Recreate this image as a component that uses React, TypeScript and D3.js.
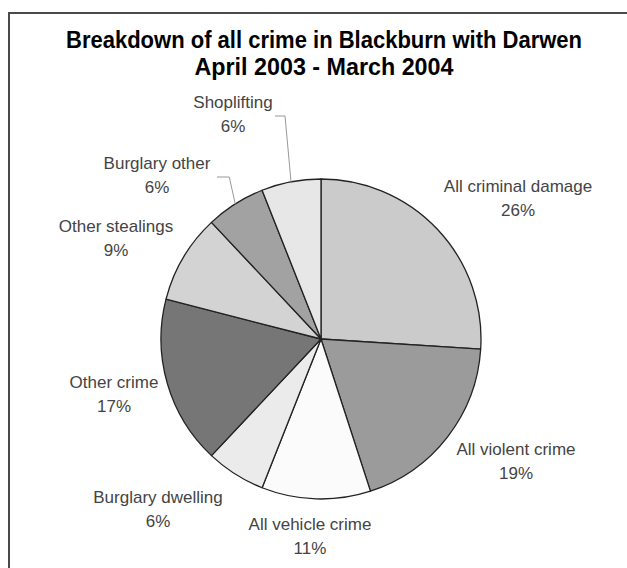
import React from "react";
import * as d3 from "d3";

const categories = [
  "All criminal damage",
  "All violent crime",
  "All vehicle crime",
  "Burglary dwelling",
  "Other crime",
  "Other stealings",
  "Burglary other",
  "Shoplifting",
];
const values = [26, 19, 11, 6, 17, 9, 6, 6];
const colors = ["#cbcbcc", "#9b9b9b", "#fbfbfb", "#ebebeb", "#767676", "#d3d3d3", "#a2a2a2", "#e7e7e7"];
const titleLines = ["Breakdown of all crime in Blackburn with Darwen", "April 2003 - March 2004"];

// label anchor positions (text centre x, first-line baseline y)
const labelPos: [number, number][] = [
  [518, 192],
  [516, 455],
  [310, 530],
  [158, 503],
  [114, 388],
  [116, 232],
  [157, 169],
  [233, 108],
];
const leaderIdx = [6, 7];

export default function App() {
  const W = 627, H = 568;
  const cx = 321, cy = 339, r = 160;
  const pie = d3.pie<number>().sort(null).value((d) => d)(values);
  const arc = d3.arc<d3.PieArcDatum<number>>().innerRadius(0).outerRadius(r);
  const total = d3.sum(values);

  const leaders: Record<number, string> = {};
  leaderIdx.forEach((i) => {
    const a = (pie[i].startAngle + pie[i].endAngle) / 2;
    const ex = cx + r * Math.sin(a);
    const ey = cy - r * Math.cos(a);
    const [lx, ly] = labelPos[i];
    const startX = i === 7 ? lx + 42 : lx + 60;
    const y0 = ly + 8;
    const midX = ex - 6;
    leaders[i] = `M${startX},${y0}L${midX},${y0}L${ex},${ey}`;
  });

  return (
    <svg width={W} height={H} style={{ position: "absolute", left: 0, top: 0, background: "#fff" }}>
      <rect x={9} y={13} width={700} height={700} fill="#fff" stroke="#4a4a4a" strokeWidth={2} />
      <g fontFamily="'Liberation Sans Narrow', 'Liberation Sans', Arial, sans-serif" fontWeight="bold" fill="#000" textAnchor="middle">
        <text x={324} y={48} fontSize={24} textLength={516} lengthAdjust="spacingAndGlyphs">
          {titleLines[0]}
        </text>
        <text x={324} y={75} fontSize={24} textLength={259} lengthAdjust="spacingAndGlyphs">
          {titleLines[1]}
        </text>
      </g>
      <g transform={`translate(${cx},${cy})`}>
        {pie.map((p, i) => (
          <path key={i} d={arc(p) || ""} fill={colors[i]} stroke="#222" strokeWidth={1.3} strokeLinejoin="round" />
        ))}
      </g>
      {leaderIdx.map((i) => (
        <path key={"l" + i} d={leaders[i]} fill="none" stroke="#999" strokeWidth={1} />
      ))}
      <g fontFamily="'Liberation Sans', Arial, sans-serif" fontSize={17} fill="#444" textAnchor="middle">
        {categories.map((c, i) => (
          <g key={c}>
            <text x={labelPos[i][0]} y={labelPos[i][1]}>{c}</text>
            <text x={labelPos[i][0]} y={labelPos[i][1] + 24}>
              {Math.round((values[i] / total) * 100) + "%"}
            </text>
          </g>
        ))}
      </g>
    </svg>
  );
}
